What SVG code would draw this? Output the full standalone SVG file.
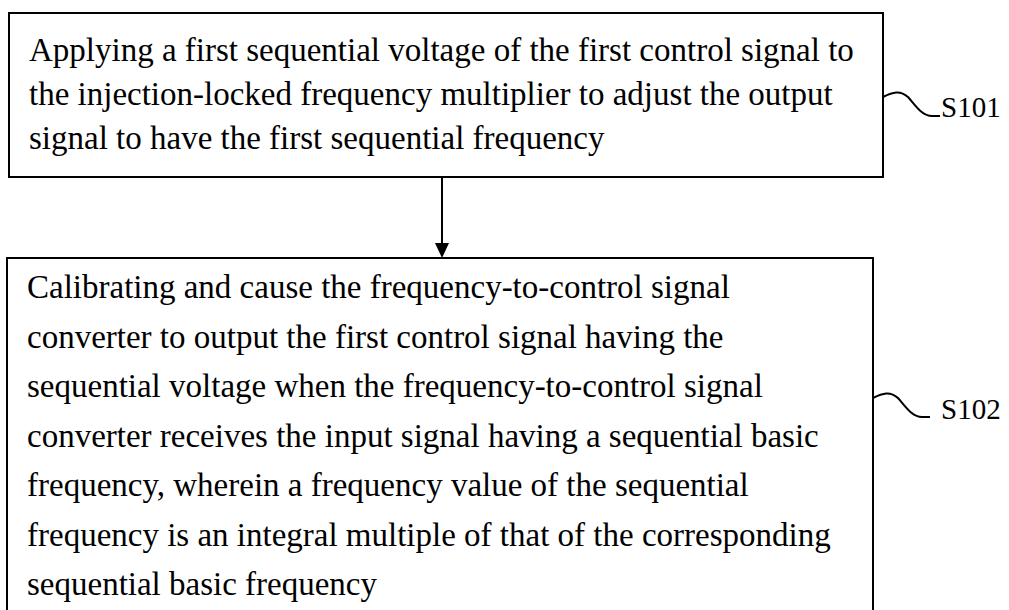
<svg xmlns="http://www.w3.org/2000/svg" width="1009" height="610" viewBox="0 0 1009 610">
<defs>
<style>
.box{fill:#fff;stroke:#000;stroke-width:2}
.t{font-family:"Liberation Serif","Times New Roman",serif;font-size:33px;fill:#000}
.lbl{font-family:"Liberation Serif","Times New Roman",serif;font-size:29px;fill:#000}
.lead{fill:none;stroke:#000;stroke-width:2}
</style>
<marker id="ah" markerWidth="14" markerHeight="16" refX="7" refY="15" orient="auto-start-reverse" markerUnits="userSpaceOnUse" viewBox="0 0 14 16">
<path d="M0,0 L14,0 L7,16 Z" fill="#000" transform="rotate(-90 7 8)"/>
</marker>
</defs>
<rect width="1009" height="610" fill="#fff"/>
<g id="S101">
<rect class="box" x="9" y="13" width="874" height="164"/>
<text class="t" x="29" y="61">Applying a first sequential voltage of the first control signal to</text>
<text class="t" x="29" y="105">the injection-locked frequency multiplier to adjust the output</text>
<text class="t" x="29" y="149">signal to have the first sequential frequency</text>
<path class="lead" d="M883,97 C893,92 900,90 908,97 C916,106 922,116 932,116 L940,116"/>
<text class="lbl" x="941" y="117">S101</text>
</g>
<g id="S102">
<rect class="box" x="7" y="258" width="866" height="370"/>
<text class="t" x="27" y="298">Calibrating and cause the frequency-to-control signal</text>
<text class="t" x="27" y="347.5">converter to output the first control signal having the</text>
<text class="t" x="27" y="397">sequential voltage when the frequency-to-control signal</text>
<text class="t" x="27" y="446.5">converter receives the input signal having a sequential basic</text>
<text class="t" x="27" y="496">frequency, wherein a frequency value of the sequential</text>
<text class="t" x="27" y="545.5">frequency is an integral multiple of that of the corresponding</text>
<text class="t" x="27" y="595">sequential basic frequency</text>
<path class="lead" d="M873,398 C883,393 890,391 898,398 C906,407 912,417 922,417 L930,417"/>
<text class="lbl" x="941" y="419">S102</text>
</g>
<g id="connectors">
<line x1="442" y1="177" x2="442" y2="243" stroke="#000" stroke-width="2"/>
<path d="M435,243 L449,243 L442,258 Z" fill="#000"/>
</g>
</svg>
